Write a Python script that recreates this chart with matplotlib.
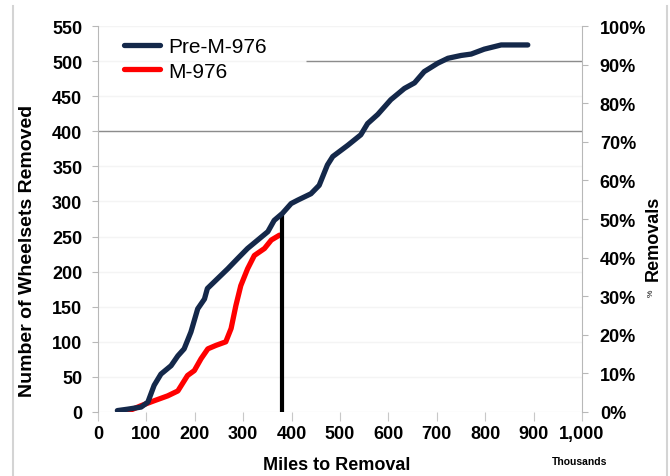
import matplotlib
matplotlib.use("Agg")
import matplotlib.pyplot as plt
import numpy as np

plt.rcParams['font.family'] = ['Liberation Sans', 'DejaVu Sans']

# cumulative wheelsets removed vs miles (thousands)
pre_miles = [40, 61, 89, 103, 116, 130, 151, 165, 178, 192, 206, 220, 226, 247, 268,
             289, 309, 330, 351, 364, 381, 399, 413, 440, 457, 474, 485, 516, 543, 557,
             578, 605, 633, 654, 674, 702, 723, 750, 771, 798, 833, 888]
pre_count = [2, 4, 7, 14, 38, 54, 66, 80, 90, 114, 147, 161, 176, 190, 204,
             219, 233, 245, 257, 273, 283, 297, 302, 311, 323, 352, 364, 380, 395, 411,
             424, 445, 461, 469, 485, 497, 504, 508, 510, 517, 523, 523]

m976_miles = [65, 89, 116, 144, 165, 185, 199, 213, 227, 244, 264, 275, 285, 295, 309,
              323, 344, 358, 375]
m976_count = [2, 9, 16, 23, 30, 52, 59, 76, 90, 95, 100, 119, 152, 180, 204,
              223, 233, 245, 252]

cutoff_miles = 381
cutoff_count = 283
ref_levels = [400, 500]

left_ticks = list(range(0, 551, 50))
x_ticks = list(range(0, 1001, 100))
x_labels = ['0', '100', '200', '300', '400', '500', '600', '700', '800', '900', '1,000']
pct_ticks = [i / 10 for i in range(11)]

navy = '#14284a'
gray = '#8c8c8c'

fig = plt.figure(figsize=(6.7, 4.77), dpi=100)
ax = fig.add_axes([98 / 670, 1 - 413 / 477, 484 / 670, 386 / 477])
ax.set_xlim(0, 1000)
ax.set_ylim(0, 550)

ax.set_yticks(left_ticks)
ax.grid(axis='y', color='#f4f4f4', lw=1)
ax.set_axisbelow(True)

ax.axhline(ref_levels[0], color=gray, lw=1, zorder=1)
ax.hlines(ref_levels[1], 430, 1000, color=gray, lw=1, zorder=1)

ax.plot(m976_miles, m976_count, color='#ff0000', lw=3.8, solid_capstyle='round',
        label='M-976', zorder=3)
ax.vlines(cutoff_miles, 0, cutoff_count, color='black', lw=3, zorder=4)
ax.plot(pre_miles, pre_count, color=navy, lw=3.8, solid_capstyle='round',
        label='Pre-M-976', zorder=5)

for s in ['top', 'bottom', 'right']:
    ax.spines[s].set_visible(False)
ax.spines['left'].set_color('#b8b8b8')

ax.set_xticks(x_ticks)
ax.set_xticklabels(x_labels)
ax.tick_params(axis='x', length=6.5, color='#c8c8c8', pad=3, labelsize=13)
ax.tick_params(axis='y', length=4.3, color='#b8b8b8', pad=7, labelsize=13)
for lab in ax.get_xticklabels() + ax.get_yticklabels():
    lab.set_fontweight('bold')

ax2 = ax.twinx()
ax2.set_ylim(0, 1)
ax2.set_yticks(pct_ticks)
ax2.set_yticklabels([f'{int(round(v * 100))}%' for v in pct_ticks])
for s in ['top', 'bottom', 'left']:
    ax2.spines[s].set_visible(False)
ax2.spines['right'].set_color('#b8b8b8')
ax2.tick_params(axis='y', length=4.3, color='#b8b8b8', pad=8.5, labelsize=13)
for lab in ax2.get_yticklabels():
    lab.set_fontweight('bold')

handles, labels = ax.get_legend_handles_labels()
order = [1, 0]
ax.legend([handles[i] for i in order], [labels[i] for i in order],
          loc='upper left', bbox_to_anchor=(124 / 670, 1 - 38 / 477),
          bbox_transform=fig.transFigure, frameon=False, fontsize=15,
          handlelength=1.75, handletextpad=0.35, labelspacing=0.27,
          borderpad=0, borderaxespad=0)

fig.text(337 / 670, 1 - 466 / 477, 'Miles to Removal', ha='center', va='center',
         fontsize=13, fontweight='bold')
fig.text(28 / 670, 1 - 251 / 477, 'Number of Wheelsets Removed', ha='center',
         va='center', rotation=90, fontsize=14, fontweight='bold')
fig.text(653 / 670, 1 - 238 / 477, 'Removals', ha='center', va='center',
         rotation=90, fontsize=13, fontweight='bold')
fig.text(651 / 670, 1 - 293 / 477, '%', ha='center', va='center',
         rotation=90, fontsize=6)
fig.text(580 / 670, 1 - 462 / 477, 'Thousands', ha='center', va='center',
         fontsize=7.5, fontweight='bold')

# light frame around the chart
fig.add_artist(plt.Line2D([13 / 670, 13 / 670], [0, 1 - 7 / 477],
                          transform=fig.transFigure, color='#d4d4d4', lw=1.5))
fig.add_artist(plt.Line2D([667 / 670, 667 / 670], [0, 1 - 7 / 477],
                          transform=fig.transFigure, color='#d4d4d4', lw=1.5))

fig.savefig('out.png', dpi=100)
